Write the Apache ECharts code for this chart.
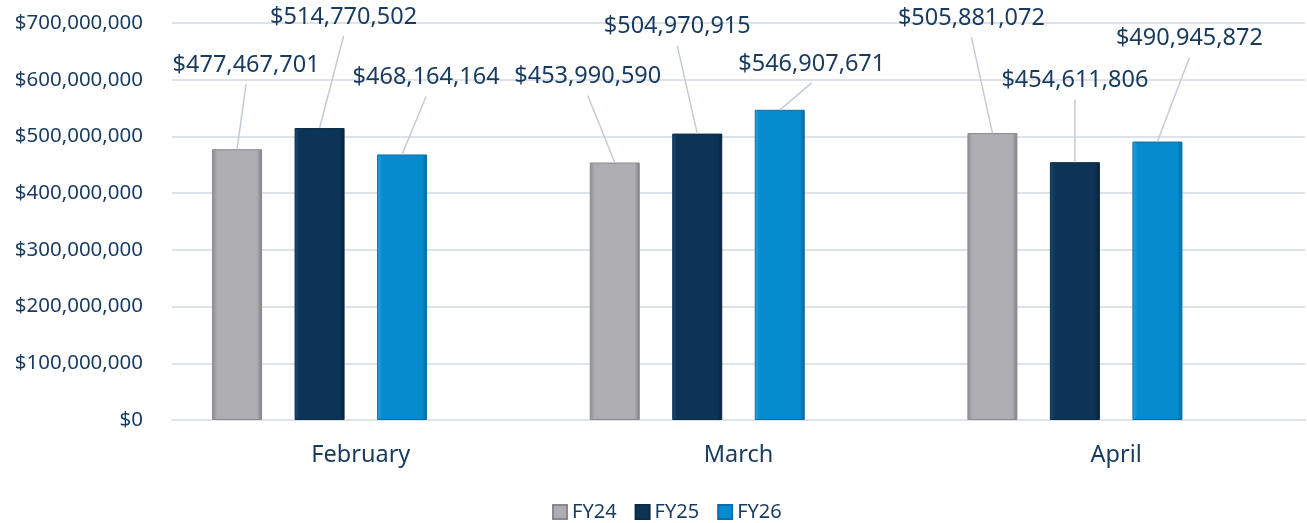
<!DOCTYPE html>
<html>
<head>
<meta charset="utf-8">
<script src="https://cdn.jsdelivr.net/npm/echarts@6/dist/echarts.min.js"></script>
<style>
html, body { margin: 0; padding: 0; background: #fff; }
#main { width: 1307px; height: 523px; }
</style>
</head>
<body>
<div id="main"></div>
<script>
var months = ['February', 'March', 'April'];
var fy24 = [477467701, 453990590, 505881072];
var fy25 = [514770502, 504970915, 454611806];
var fy26 = [468164164, 546907671, 490945872];
// the source chart keeps an empty fourth slot in every group
var spare = [null, null, null];

// where each value label sits, relative to the top centre of its bar
var labelOffsets = [
    [[9, -84], [-27, -86], [-21, -115]],
    [[24, -111], [-20, -107], [0, -82]],
    [[24, -77], [32, -46], [32, -103]]
];

var textColor = '#173a5e';

function money(v) {
    return '$' + Number(v).toLocaleString('en-US');
}

function bevel(edge, main, edge2) {
    return new echarts.graphic.LinearGradient(0, 0, 1, 0, [
        {offset: 0, color: edge},
        {offset: 0.1, color: main},
        {offset: 0.9, color: main},
        {offset: 1, color: edge2}
    ]);
}

function barSeries(name, data, fill, border) {
    return {
        name: name,
        type: 'bar',
        data: data,
        barWidth: 50,
        barGap: '65%',
        itemStyle: {color: fill, borderColor: border, borderWidth: 1},
        label: {
            show: true,
            position: 'top',
            color: textColor,
            fontFamily: 'Noto Sans',
            fontSize: 23.5,
            formatter: function (p) { return money(p.value); }
        },
        labelLayout: function (p) {
            var o = labelOffsets[p.seriesIndex][p.dataIndex];
            var r = p.rect;
            return {
                x: r.x + r.width / 2 + o[0],
                y: r.y + o[1],
                align: 'center',
                verticalAlign: 'middle'
            };
        }
    };
}

var myChart = echarts.init(document.getElementById('main'));

var option = {
    animation: false,
    grid: {left: 172, right: 2, top: 23, bottom: 103},
    legend: {
        data: ['FY24', 'FY25', 'FY26'],
        left: 547,
        top: 497,
        icon: 'rect',
        itemWidth: 14,
        itemHeight: 14,
        itemGap: 18,
        textStyle: {color: textColor, fontFamily: 'Noto Sans', fontSize: 20}
    },
    xAxis: {
        type: 'category',
        data: months,
        axisTick: {show: false},
        axisLine: {lineStyle: {color: '#dde3e9', width: 2}},
        axisLabel: {color: textColor, fontFamily: 'Noto Sans', fontSize: 23.5, margin: 23}
    },
    yAxis: {
        type: 'value',
        min: 0,
        max: 700000000,
        interval: 100000000,
        axisLine: {show: false},
        axisTick: {show: false},
        splitLine: {lineStyle: {color: '#dde3e9', width: 2}},
        axisLabel: {
            color: textColor,
            fontFamily: 'Noto Sans',
            fontSize: 20.5,
            margin: 29,
            formatter: money
        }
    },
    series: [
        barSeries('FY24', fy24, bevel('#8c8c90', '#adadb2', '#7c7c80'), '#8a8a8e'),
        barSeries('FY25', fy25, bevel('#1d4a70', '#0c3456', '#081f36'), '#0a2a47'),
        barSeries('FY26', fy26, bevel('#2aa3e3', '#078bcf', '#05679c'), '#0a6fa6'),
        {name: 'spare', type: 'bar', data: spare, barWidth: 50, barGap: '65%'}
    ]
};
myChart.setOption(option);

// leader lines from each label down to the top of its bar
var guides = [];
[0, 1, 2].forEach(function (s) {
    var data = myChart.getModel().getSeriesByIndex(s).getData();
    for (var i = 0; i < data.count(); i++) {
        var l = data.getItemLayout(i);
        var top = Math.min(l.y, l.y + l.height);
        var cx = l.x + l.width / 2;
        var o = labelOffsets[s][i];
        guides.push({
            type: 'line',
            silent: true,
            z: 10,
            shape: {x1: cx + o[0], y1: top + o[1] + 19, x2: cx, y2: top},
            style: {stroke: '#c3ccd5', lineWidth: 1.5}
        });
    }
});
myChart.setOption({graphic: guides});
</script>
</body>
</html>
